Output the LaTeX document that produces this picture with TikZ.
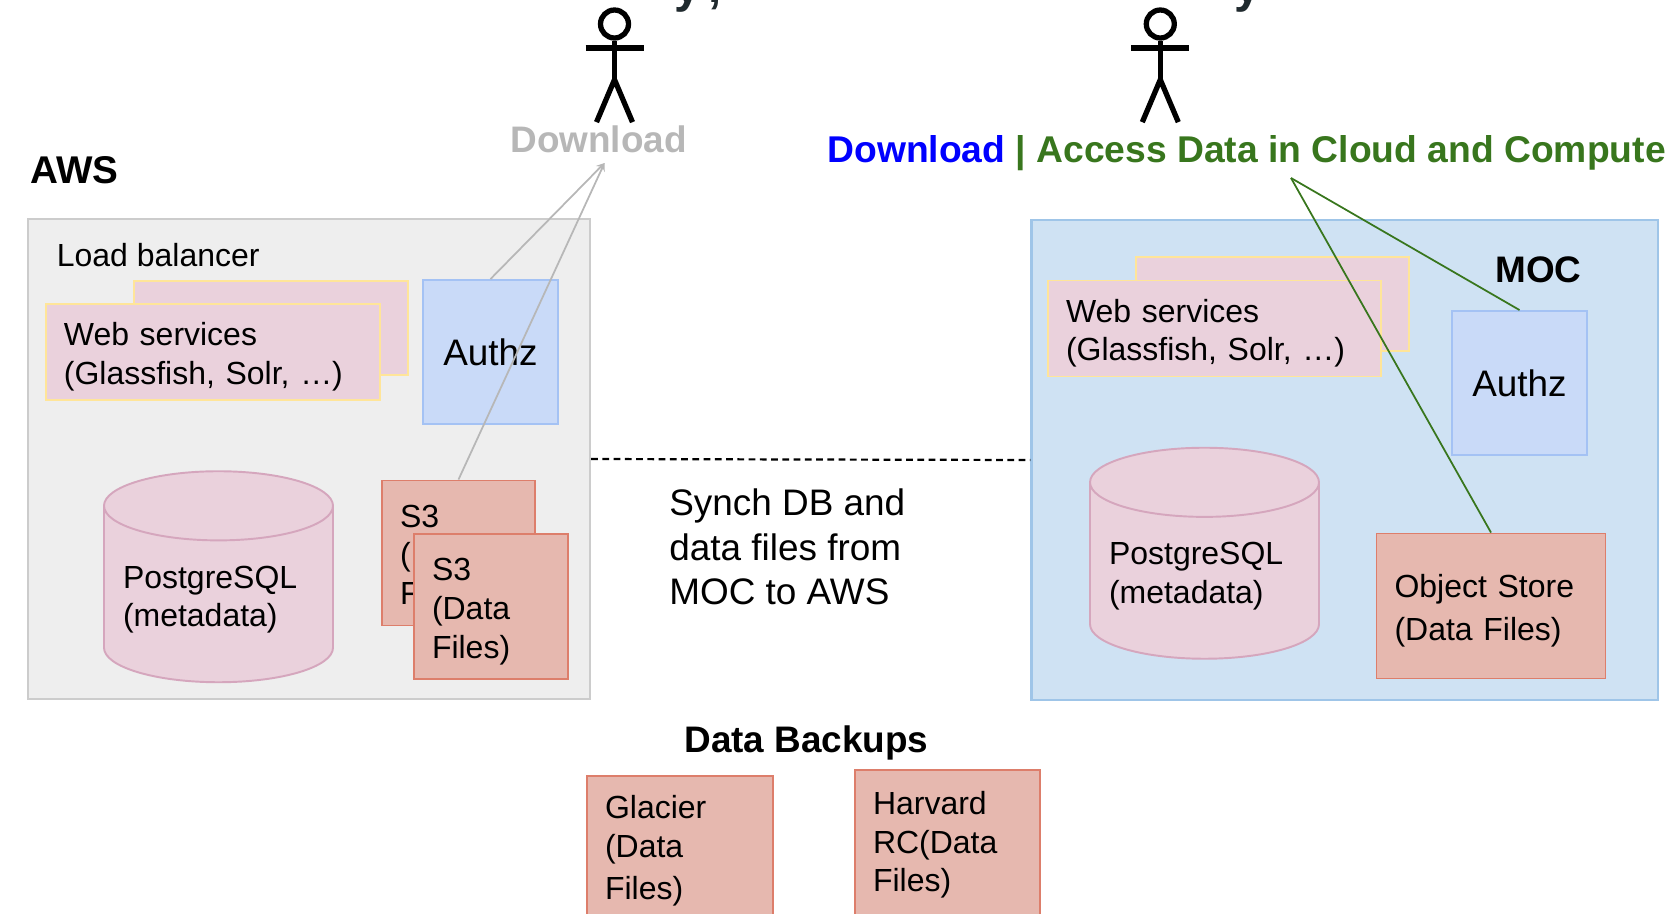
\documentclass[tikz,border=0pt]{standalone}
\usepackage{xcolor}
\usepackage{fontspec}
\setmainfont{Liberation Sans}
\definecolor{gray1} {RGB} {238, 238, 238}
\definecolor{gray2} {RGB} {204, 204, 204}
\definecolor{gray3} {RGB} {183, 183, 183}
\definecolor{sky1} {RGB} {207, 226, 243}
\definecolor{sky2} {RGB} {159, 197, 232}
\definecolor{pink1} {RGB} {234, 209, 220}
\definecolor{pink2} {RGB} {213, 166, 189}
\definecolor{gold1} {RGB} {255, 229, 153}
\definecolor{blue1} {RGB} {201, 218, 248}
\definecolor{blue2} {RGB} {164, 194, 244}
\definecolor{red1} {RGB} {230, 184, 175}
\definecolor{red2} {RGB} {221, 126, 107}
\definecolor{green1} {RGB} {56, 118, 29}
\definecolor{ink1} {RGB} {32, 42, 46}
\usetikzlibrary{arrows,shapes.geometric}
\usetikzlibrary{calc}
\tikzstyle{arch}=[
  >=stealth, font=\fontsize{18.2}{22}\selectfont
]
\tikzstyle{archnode}=[
  draw, line width=1.1pt, align=left, inner xsep=0.36cm, inner ysep=0pt
]
\tikzstyle{archdown}=[
  execute at begin node={\rule{0pt}{18.4pt}}
]
\tikzstyle{archcloud}=[
  draw, line width=1.2pt, minimum width=11.25cm, minimum height=9.6cm
]
\tikzstyle{archweb}=[
  archnode, fill=pink1, draw=gold1, minimum height=1.92cm
]
\tikzstyle{archauthz}=[
  archnode, fill=blue1, draw=blue2, align=center, inner xsep=0pt,
  minimum width=2.7cm, minimum height=2.88cm, font=\fontsize{21}{25}\selectfont
]
\tikzstyle{archstore}=[
  archnode, fill=red1, draw=red2, minimum height=2.9cm
]
\tikzstyle{archdb}=[
  archnode, archdown, cylinder, shape border rotate=90, aspect=0.362, fill=pink1, draw=pink2,
  inner xsep=0pt, text width=3.82cm, minimum width=4.58cm, minimum height=4.22cm
]
\tikzstyle{archtitle}=[
  anchor=base west, inner sep=0pt, font=\fontsize{21}{25}\selectfont\bfseries
]
\tikzstyle{archedge}=[
  line width=1pt
]
\begin{document}
\begin{tikzpicture}[arch]
\useasboundingbox (0,0) rectangle (33.42,-18.26);

\node (aws) [archcloud, fill=gray1, draw=gray2] at (6.178,-9.18) {};
\node (moc) [archcloud, fill=sky1, draw=sky2, minimum width=12.53cm] at (26.894,-9.2) {};

\node (aws label) [archtitle, font=\fontsize{22}{25}\selectfont\bfseries] at (0.6,-3.66) {AWS};
\node (moc label) [archtitle] at (29.9,-5.64) {MOC};
\node (lb label) [anchor=base west, inner sep=0pt] at (1.13,-5.33) {Load balancer};

\node (web a2) [archweb, minimum width=5.48cm, minimum height=1.88cm] at ($(aws) + (-0.758, 2.62)$) {};
\node (web a1) [archweb, archdown, text width=5.96cm] at ($(web a2) + (-1.162, -0.48)$) {Web services\\(Glassfish, Solr, …)};
\node (authz a) [archauthz] at ($(aws) + (3.632, 2.14)$) {Authz};
\node (db a) [archdb] at ($(aws) + (-1.808, -2.71)$) {PostgreSQL\\(metadata)};
\node (s3 a2) [archstore, archdown, text width=2.34cm] at ($(aws) + (2.992, -1.88)$) {S3\\(Data\\Files)};
\node (s3 a1) [archstore, archdown, text width=2.36cm] at ($(s3 a2) + (0.65, -1.07)$) {S3\\(Data\\Files)};

\node (web m2) [archweb, minimum width=5.46cm, minimum height=1.88cm] at ($(moc) + (-1.444, 3.12)$) {};
\node (web m1) [archweb, archdown, text width=5.94cm] at ($(web m2) + (-1.16, -0.49)$) {Web services\\(Glassfish, Solr, …)};
\node (authz m) [archauthz] at ($(moc) + (3.496, 1.54)$) {Authz};
\node (db m) [archdb] at ($(moc) + (-2.804, -2.22)$) {PostgreSQL\\(metadata)};
\node (obj m) [archstore, archdown, text width=3.86cm] at ($(moc) + (2.926, -2.92)$) {Object Store\\[2.2pt](Data Files)};

\node (synch) [anchor=west, inner sep=0pt, align=left, font=\fontsize{21}{25.2}\selectfont] at (13.38,-10.94) {Synch DB and\\data files from\\MOC to AWS};

\node (backup label) [archtitle, anchor=base] at (16.13,-15.04) {Data Backups};
\node (glacier) [archstore, text width=2.99cm, minimum height=3cm] at (13.596,-17.02) {Glacier\\(Data\\[2.2pt]Files)};
\node (harvard) [archstore, text width=2.98cm, minimum height=3cm] at (18.95,-16.9) {Harvard\\RC(Data\\Files)};

\foreach \name/\x in {left/12.29, right/23.206} {
  \node (\name) [draw, circle, line width=3pt, minimum size=0.56cm, inner sep=0pt] at (\x,-0.48) {};
  \coordinate (\name hip) at ($(\name.south) + (0,-0.78)$);
  \draw [line width=3pt] (\name.south) -- (\name hip);
  \draw [line width=3.8pt] ($(\name) + (-0.58,-0.48)$) -- ($(\name) + (0.58,-0.48)$);
  \draw [line width=3pt] ($(\name hip) + (-0.36,-0.85)$) -- (\name hip) -- ($(\name hip) + (0.36,-0.85)$);
}

\node (top a) [anchor=base west, inner sep=0pt, font=\fontsize{27}{30}\selectfont\bfseries, text=ink1] at (13.48,-0.05) {y\hspace{4.5pt},};
\node (top b) [anchor=base west, inner sep=0pt, font=\fontsize{27}{30}\selectfont\bfseries, text=ink1] at (24.68,-0.05) {y};

\node (dl a) [archtitle, text=gray3] at (10.2,-3.04) {Download};
\node (dl m) [archtitle, font=\fontsize{21.2}{25}\selectfont\bfseries] at (16.54,-3.24) {\textcolor{blue}{Download} \textcolor{green1}{| Access Data in Cloud and Compute}};

\coordinate (tip a) at (12.09,-3.26);
\coordinate (tip m) at (25.82,-3.56);

\draw [archedge, ->, draw=gray3] (authz a.north) -- (tip a);
\draw [archedge, ->, draw=gray3] (s3 a2.north) -- (tip a);
\draw [archedge, draw=green1] (authz m.north) -- (tip m);
\draw [archedge, draw=green1] (obj m.north) -- (tip m);
\draw [line width=1.25pt, dash pattern=on 3.8pt off 2.6pt] (aws.east) -- (moc.west);
\end{tikzpicture}
\end{document}
